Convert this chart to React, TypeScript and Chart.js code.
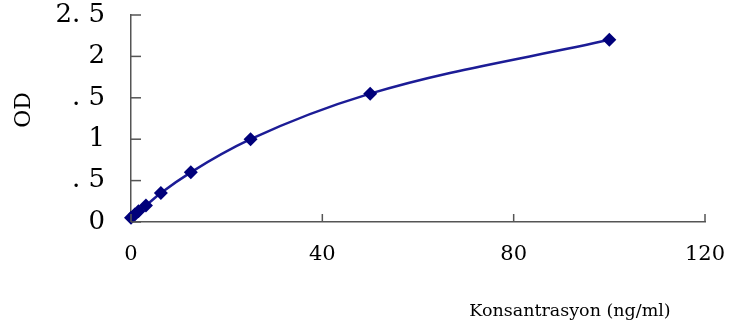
import React, { useEffect, useRef } from "react";
import { Chart, registerables } from "chart.js";

Chart.register(...registerables);

const concentrations = [0, 0.78, 1.56, 3.125, 6.25, 12.5, 25, 50, 100];
const odValues = [0.05, 0.09, 0.13, 0.2, 0.35, 0.6, 1.0, 1.55, 2.2];
const yTickLabels: Record<string, string> = {
  "0": "0",
  "0.5": ". 5",
  "1": "1",
  "1.5": ". 5",
  "2": "2",
  "2.5": "2. 5",
};
const xTickValues = [0, 40, 80, 120];
const yAxisTitle = "OD";
const xAxisTitle = "Konsantrasyon (ng/ml)";

const SERIF = "'DejaVu Serif', 'Liberation Serif', serif";

const decorPlugin = {
  id: "decor",
  afterDraw(chart: any) {
    const { ctx, chartArea, scales } = chart;
    const xs = scales.x;
    const ys = scales.y;
    ctx.save();
    ctx.strokeStyle = "#555";
    ctx.lineWidth = 1.5;
    ys.ticks.forEach((t: any) => {
      const py = ys.getPixelForValue(t.value);
      ctx.beginPath();
      ctx.moveTo(chartArea.left, py);
      ctx.lineTo(chartArea.left + 10, py);
      ctx.stroke();
    });
    xs.ticks.forEach((t: any) => {
      const px = xs.getPixelForValue(t.value);
      ctx.beginPath();
      ctx.moveTo(px, chartArea.bottom);
      ctx.lineTo(px, chartArea.bottom - 8);
      ctx.stroke();
    });
    ctx.fillStyle = "#000";
    ctx.font = `17.5px ${SERIF}`;
    ctx.textAlign = "center";
    ctx.textBaseline = "alphabetic";
    ctx.fillText(xAxisTitle, 570, 316);
    ctx.translate(24, 110);
    ctx.rotate(-Math.PI / 2);
    ctx.font = `22px ${SERIF}`;
    ctx.textBaseline = "middle";
    ctx.fillText(yAxisTitle, 0, 0);
    ctx.restore();
  },
};

export default function App() {
  const ref = useRef<HTMLCanvasElement | null>(null);
  useEffect(() => {
    if (!ref.current) return;
    const chart = new Chart(ref.current, {
      type: "line",
      data: {
        datasets: [
          {
            data: concentrations.map((x, i) => ({ x, y: odValues[i] })),
            borderColor: "#1c1c96",
            backgroundColor: "#00007a",
            borderWidth: 2.5,
            pointStyle: "rectRot",
            pointRadius: 7,
            pointBorderWidth: 0,
            cubicInterpolationMode: "monotone",
            fill: false,
            clip: false,
          },
        ],
      },
      options: {
        animation: false,
        responsive: true,
        maintainAspectRatio: false,
        layout: { padding: { top: 15, right: 27, left: 0, bottom: 0 } },
        plugins: {
          legend: { display: false },
          tooltip: { enabled: false },
        },
        scales: {
          x: {
            type: "linear",
            min: 0,
            max: 120,
            afterBuildTicks: (axis: any) => {
              axis.ticks = xTickValues.map((v) => ({ value: v }));
            },
            afterFit: (axis: any) => {
              axis.height = 103;
              axis.paddingLeft = 0;
              axis.paddingRight = 0;
              axis.paddingTop = 0;
              axis.paddingBottom = 0;
            },
            grid: { display: false, drawTicks: false },
            border: { display: true, color: "#555", width: 1.5 },
            ticks: {
              padding: 20,
              color: "#000",
              maxRotation: 0,
              font: { family: SERIF, size: 21 },
            },
          },
          y: {
            type: "linear",
            min: 0,
            max: 2.5,
            afterFit: (axis: any) => {
              axis.width = 131;
              axis.paddingTop = 0;
              axis.paddingBottom = 0;
              axis.paddingLeft = 0;
              axis.paddingRight = 0;
            },
            grid: { display: false, drawTicks: false },
            border: { display: true, color: "#555", width: 1.5 },
            ticks: {
              stepSize: 0.5,
              padding: 26,
              color: "#000",
              font: { family: SERIF, size: 26 },
              callback: (v: any) => yTickLabels[String(v)] ?? String(v),
            },
          },
        },
      },
      plugins: [decorPlugin],
    });
    return () => chart.destroy();
  }, []);
  return (
    <div style={{ position: "fixed", left: 0, top: 0, width: 732, height: 325, background: "#fff" }}>
      <canvas ref={ref} />
    </div>
  );
}
